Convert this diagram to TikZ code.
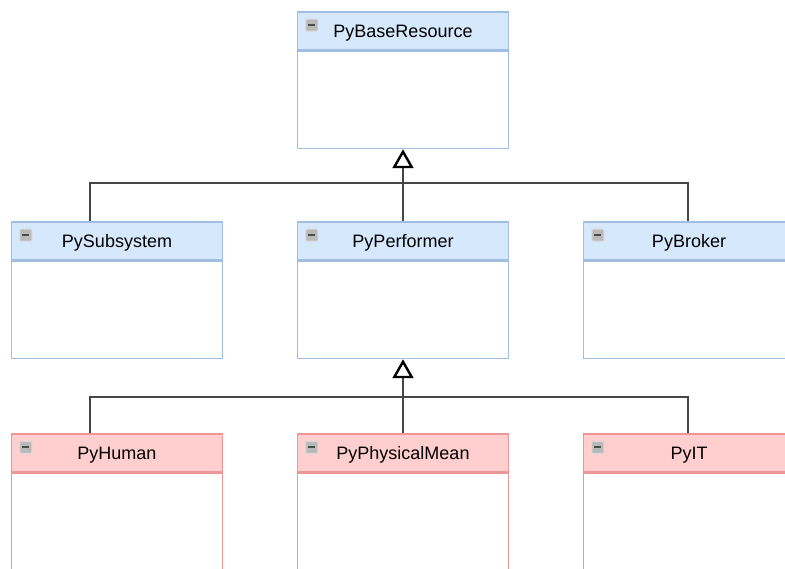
\documentclass[tikz,border=0pt]{standalone}
\usepackage{fontspec}
\setmainfont{Liberation Sans}
\usetikzlibrary{positioning}
\usetikzlibrary{arrows.meta}
\definecolor{headblue}{RGB}{214,232,252}
\definecolor{lineblue}{RGB}{160,190,228}
\definecolor{headpink}{RGB}{255,206,206}
\definecolor{linepink}{RGB}{238,150,150}
\definecolor{connector}{RGB}{70,70,70}
\tikzstyle{classhead} = [draw, line width=1.5pt, minimum width=211pt, minimum height=38pt, inner sep=0pt, text depth=0pt, font=\fontsize{18}{20}\selectfont]
\tikzstyle{bluehead} = [classhead, draw=lineblue, fill=headblue]
\tikzstyle{pinkhead} = [classhead, draw=linepink, fill=headpink]
\tikzstyle{classbody} = [draw, line width=1.5pt, minimum width=211pt, minimum height=97pt, inner sep=0pt, fill=white]
\tikzstyle{link} = [draw=connector, line width=1.8pt]
\tikzstyle{genarrow} = [-{Triangle[open, length=19pt, width=21pt, line width=2.4pt, color=black]}]
\tikzstyle{icon} = [draw=gray!30, fill=gray!55, line width=1pt, minimum width=12pt, minimum height=12pt, inner sep=0pt, rounded corners=1pt,
  path picture={\draw[black!70, line width=2pt] ([xshift=2.5pt]path picture bounding box.west) -- ([xshift=-2.5pt]path picture bounding box.east);}]

\begin{document}
\begin{tikzpicture}[x=1pt, y=-1pt, node distance=0pt]
        \useasboundingbox (0,0) rectangle (785,569);
        \clip (0,0) rectangle (785,569);

        % connectors
        \coordinate (topbus) at (403,183);
        \coordinate (lowbus) at (403,397);

        % top level
        \node[bluehead] (base) at (403,31) {PyBaseResource};
        \node[classbody, draw=lineblue, below=of base] (basebody) {};

        % second level
        \node[bluehead] (subsystem) at (117,241) {PySubsystem};
        \node[classbody, draw=lineblue, below=of subsystem] (subsystembody) {};
        \node[bluehead] (performer) at (403,241) {PyPerformer};
        \node[classbody, draw=lineblue, below=of performer] (performerbody) {};
        \node[bluehead] (broker) at (689,241) {PyBroker};
        \node[classbody, draw=lineblue, below=of broker] (brokerbody) {};

        % third level
        \node[pinkhead] (human) at (117,453) {PyHuman};
        \node[classbody, draw=linepink, below=of human] (humanbody) {};
        \node[pinkhead] (physmean) at (403,453) {PyPhysicalMean};
        \node[classbody, draw=linepink, below=of physmean] (physmeanbody) {};
        \node[pinkhead] (it) at (689,453) {PyIT};
        \node[classbody, draw=linepink, below=of it] (itbody) {};

        % collapse icons
        \foreach \cls in {base, subsystem, performer, broker, human, physmean, it}
            \node[icon] (\cls icon) at ([shift={(15pt,-14pt)}]\cls.north west) {};

        \draw[link] ([xshift=-27pt]subsystem.north) |- (topbus) -| ([xshift=-1pt]broker.north);
        \draw[link, genarrow] (performer.north) -- (basebody.south);

        \draw[link] ([xshift=-27pt]human.north) |- (lowbus) -| ([xshift=-1pt]it.north);
        \draw[link, genarrow] (physmean.north) -- (performerbody.south);
    \end{tikzpicture}
\end{document}
